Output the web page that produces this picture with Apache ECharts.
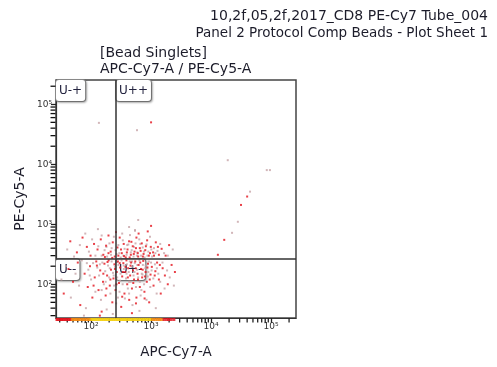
<!DOCTYPE html>
<html>
<head>
<meta charset="utf-8">
<script src="https://cdn.jsdelivr.net/npm/echarts@6/dist/echarts.min.js"></script>
<style>html,body{margin:0;padding:0;background:#fff}#c{width:497px;height:367px}</style>
</head>
<body>
<div id="c"></div>
<script>
// ---- data ----
const headerLines = ['10,2f,05,2f,2017_CD8 PE-Cy7 Tube_004', 'Panel 2 Protocol Comp Beads - Plot Sheet 1'];
const plotLines = ['[Bead Singlets]', 'APC-Cy7-A / PE-Cy5-A'];
const xName = 'APC-Cy7-A';
const yName = 'PE-Cy5-A';
const xRange = [26, 261000];
const yRange = [27.4, 254000];
const xGate = 261;
const yGate = 263;
const quadrantNames = ['U-+', 'U++', 'U--', 'U+-'];
const majorTickValues = [100, 1000, 10000, 100000];
const majorTickLabels = ['10²', '10³', '10⁴', '10⁵'];
const minorTickValues = [30,40,50,60,70,80,90,200,300,400,500,600,700,800,900,2000,3000,4000,5000,6000,7000,8000,9000,20000,30000,40000,50000,60000,70000,80000,90000,200000];

const redEvents = [
[45,520],[58,340],[72,600],[85,420],[98,300],[112,470],[128,380],[145,560],[160,310],[178,440],[195,650],[212,350],[230,500],[248,290],[275,410],[300,600],[325,330],[350,470],[378,280],[405,380],[430,520],[460,310],[495,430],[530,350],[570,600],[610,290],[650,400],[700,480],[750,320],[800,370],[860,540],[920,300],[990,420],[1080,340],[1200,500],[1350,310],[1500,390],[1750,300],[2000,450],[620,700],[880,760],[260,740],
[35,70],[42,180],[50,110],[60,230],[66,45],[78,150],[88,90],[96,200],[105,60],[115,130],[122,240],[133,80],[142,170],[150,35],[158,110],[167,220],[175,65],[185,140],[196,250],[205,95],[215,175],[226,50],[236,125],[245,215],[255,80],[268,160],[280,240],[292,105],[305,190],[318,42],[330,135],[345,225],[360,70],[372,160],[388,250],[400,100],[415,185],[432,55],[448,140],[465,230],[480,85],[500,170],[520,120],[545,240],[570,60],[595,150],[620,210],[650,90],[680,180],[710,130],[740,245],[775,75],[810,160],[850,110],[890,220],[930,50],[980,145],[1030,195],[1100,95],[1180,165],[1260,230],[1350,120],[1450,70],[1560,185],[1700,140],[1900,100],[2200,210],[2500,160],[140,30],[480,33],
[170,285],[195,330],[225,275],[285,300],[315,380],[355,295],[395,340],[440,280],[470,510],[515,320],[560,400],[600,330],[670,360],[730,290],[820,430],[960,330],[1120,300],[1300,420],
[125,205],[160,150],[188,235],[210,120],[250,180],[265,100],[300,225],[340,160],[375,195],[410,130],[455,205],[505,105],[555,185],[605,120],[660,230],[725,175],[790,135],[870,190],[950,120],[1150,140],[1400,210],[110,95],[180,85],[330,62],[560,48],[780,58],
[1000,50000],[40000,2900],[31600,2100],[16600,550],[13000,310],[1000,940]
];
const grayEvents = [
[40,380],[52,290],[65,450],[80,700],[92,350],[104,560],[118,300],[132,430],[150,650],[168,370],[185,290],[202,480],[220,400],[240,620],[265,320],[285,450],[312,280],[338,540],[362,390],[390,310],[418,460],[445,660],[475,370],[510,290],[550,480],[590,340],[635,560],[680,300],[725,410],[780,280],[840,460],[900,350],[960,620],[1040,290],[1120,400],[1280,360],[1420,470],[1650,330],[1900,300],[2300,380],[540,780],[330,700],
[32,120],[38,200],[46,60],[55,150],[63,95],[70,250],[82,40],[90,175],[100,120],[108,225],[118,75],[127,190],[136,140],[146,55],[154,230],[163,100],[172,165],[182,38],[192,205],[200,130],[210,70],[220,240],[232,155],[242,95],[252,195],[262,48],[272,130],[286,210],[298,75],[310,150],[322,250],[336,100],[352,180],[366,58],[382,125],[396,215],[410,85],[425,160],[442,240],[456,110],[475,195],[490,45],[510,140],[535,225],[560,90],[585,175],[610,130],[640,250],[670,65],[700,150],[730,210],[765,100],[800,185],[840,55],[880,135],[920,240],[970,90],[1020,170],[1090,125],[1160,215],[1240,70],[1320,150],[1420,110],[1550,230],[1680,85],[1850,170],[2050,130],[2400,95],[76,30],[230,32],[640,36],[1200,40],
[150,300],[180,420],[215,310],[255,370],[295,330],[345,300],[400,450],[460,340],[520,420],[580,300],[660,470],[760,350],[870,300],[1010,380],[1180,330],
[140,215],[175,110],[205,185],[238,140],[270,235],[305,115],[350,205],[390,150],[430,110],[480,240],[530,160],[590,210],[650,110],[720,145],[810,205],[900,160],[1000,230],[1250,185],[95,140],[85,225],[150,80],[280,60],[430,70],[690,80],
[135,49000],[583,37000],[19000,11700],[85000,8000],[96000,8000],[44700,3500],[28000,1100],[22400,720],[610,1180],[430,900],[540,800],[130,830]
];
// events piled on the lower axis limit (x values)
const pileRedX = [27,28,30,32,33,35,37,39,42,44,1650,1820,1960,2150,2400];
const pileOrangeX = [46,49,53,57,61,66,72,77,84,91,1080,1170,1290,1380,1500];
const pileYellowX = [96,103,111,119,128,139,149,162,174,188,203,219,236,258,279,301,327,352,381,412,446,487,523,566,612,667,722,781,846,918,990];

// ---- chart ----
const FONT = 'DejaVu Sans';
const chart = echarts.init(document.getElementById('c'), null, {renderer: 'canvas'});
function majorLabel(v) {
  let best = 0, bd = Infinity;
  majorTickValues.forEach((t, i) => { const d = Math.abs(Math.log10(v) - Math.log10(t)); if (d < bd) { bd = d; best = i; } });
  return majorTickLabels[best];
}
function logAxis(range, extra) {
  return Object.assign({
    type: 'log', min: range[0], max: range[1],
    axisLine: {show: true, lineStyle: {color: '#333', width: 1.2}},
    axisTick: {show: true, inside: false, length: 5, customValues: majorTickValues, lineStyle: {color: '#222', width: 1.3}},
    axisLabel: {show: true, customValues: majorTickValues, formatter: majorLabel, fontFamily: FONT, fontSize: 9, color: '#333', margin: 4},
    splitLine: {show: false}
  }, extra);
}
const quadLabel = {
  show: true, position: 'insideTopLeft', distance: 0,
  fontFamily: FONT, fontSize: 12, color: '#23233f',
  backgroundColor: '#fff', borderColor: '#8a8a8a', borderWidth: 1, borderRadius: 3,
  padding: [5, 3, 4, 3],
  shadowColor: 'rgba(0,0,0,0.25)', shadowBlur: 2, shadowOffsetX: 1, shadowOffsetY: 1
};
const titleStyle = (size) => ({fontFamily: FONT, fontSize: size, fontWeight: 'normal', color: '#1c1c2a'});
// minor tick marks, placed through the axis scales
function minorTickSeries(dir) {
  const isX = dir === 'x';
  return {
    type: 'scatter', silent: true, clip: false, z: 5, symbol: 'rect',
    xAxisIndex: 0, yAxisIndex: 0,
    data: minorTickValues.map(v => isX ? [v, yRange[0]] : [xRange[0], v]),
    symbolSize: isX ? [1.2, 4] : [5, 1.3],
    symbolOffset: isX ? [0, 2.5] : [-3, 0],
    itemStyle: {color: '#111', opacity: 1}
  };
}
const option = {
  animation: false,
  backgroundColor: '#fff',
  title: [
    {text: headerLines[0], right: 4, top: 4, textStyle: titleStyle(14)},
    {text: headerLines[1], right: 4, top: 21, textStyle: titleStyle(13.5)},
    {text: plotLines[0], left: 95, top: 41, textStyle: titleStyle(14)},
    {text: plotLines[1], left: 95, top: 57, textStyle: titleStyle(14)}
  ],
  grid: {left: 56, right: 201, top: 80, bottom: 49, show: true, borderColor: '#444', borderWidth: 1.5, backgroundColor: '#fff'},
  xAxis: logAxis(xRange, {position: 'bottom', name: xName, nameLocation: 'middle', nameGap: 27, nameTextStyle: {fontFamily: FONT, fontSize: 13.5, color: '#1c1c2a'}}),
  yAxis: logAxis(yRange, {position: 'left', name: yName, nameLocation: 'middle', nameGap: 29, nameTextStyle: {fontFamily: FONT, fontSize: 14, color: '#1c1c2a'}}),
  series: [
    {type: 'scatter', name: 'gray', data: grayEvents, symbol: 'rect', symbolSize: 2,
     itemStyle: {color: '#c7a4a8'}, silent: true,
     markLine: {silent: true, symbol: 'none', label: {show: false},
       lineStyle: {color: '#333', width: 1.5, type: 'solid'},
       data: [{xAxis: xGate}, {yAxis: yGate}]},
     markArea: {silent: true, itemStyle: {color: 'rgba(0,0,0,0)'}, label: quadLabel,
       data: [
         [{name: quadrantNames[0], coord: [xRange[0], yGate]}, {coord: [xGate, yRange[1]]}],
         [{name: quadrantNames[1], coord: [xGate, yGate]}, {coord: [xRange[1], yRange[1]]}],
         [{name: quadrantNames[2], coord: [xRange[0], yRange[0]]}, {coord: [xGate, yGate]}],
         [{name: quadrantNames[3], coord: [xGate, yRange[0]]}, {coord: [xRange[1], yGate]}]
       ]}
    },
    {type: 'scatter', name: 'red', data: redEvents, symbol: 'rect', symbolSize: 2,
     itemStyle: {color: '#e3121c'}, silent: true},
    minorTickSeries('x'),
    minorTickSeries('y'),
    {type: 'scatter', name: 'pileYellow', data: pileYellowX.map(x => [x, yRange[0]]), symbol: 'rect', symbolSize: [4, 3], symbolOffset: [0, 1.5], clip: false, z: 6,
     itemStyle: {color: '#f4cf10'}, silent: true},
    {type: 'scatter', name: 'pileOrange', data: pileOrangeX.map(x => [x, yRange[0]]), symbol: 'rect', symbolSize: [4, 3], symbolOffset: [0, 1.5], clip: false, z: 6,
     itemStyle: {color: '#f28a12'}, silent: true},
    {type: 'scatter', name: 'pileRed', data: pileRedX.map(x => [x, yRange[0]]), symbol: 'rect', symbolSize: [3, 3], symbolOffset: [0, 1.5], clip: false, z: 6,
     itemStyle: {color: '#e3121c'}, silent: true}
  ]
};
chart.setOption(option);
</script>
</body>
</html>
